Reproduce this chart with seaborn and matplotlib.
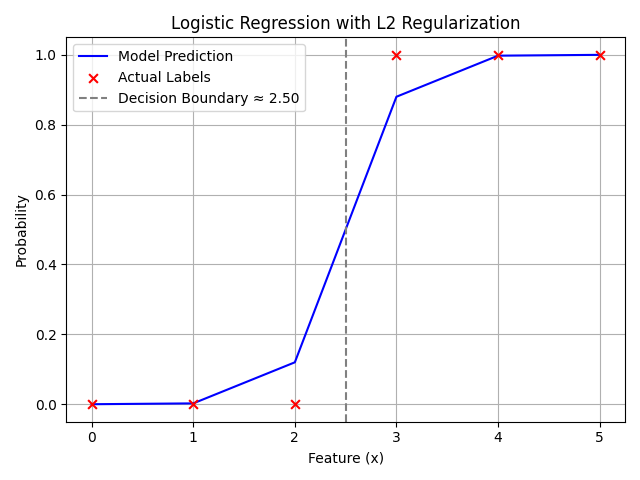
import matplotlib
matplotlib.use('Agg')
import matplotlib.pyplot as plt
import seaborn as sns
import numpy as np

# 数据
x = [0, 1, 2, 3, 4, 5]
y_true = [0, 0, 0, 1, 1, 1]
y_prob = [0.0001, 0.0025, 0.12, 0.88, 0.9975, 0.9999]
boundary = 2.50

fig, ax = plt.subplots(figsize=(6.4, 4.8), dpi=100)
sns.lineplot(x=x, y=y_prob, color='blue', label='Model Prediction', ax=ax)
sns.scatterplot(x=x, y=y_true, color='red', marker='x', s=40, linewidth=1.5,
                label='Actual Labels', ax=ax, zorder=3)
ax.axvline(boundary, color='gray', linestyle='--',
           label=f'Decision Boundary ≈ {boundary:.2f}')
ax.set_title('Logistic Regression with L2 Regularization')
ax.set_xlabel('Feature (x)')
ax.set_ylabel('Probability')
ax.grid(True)
ax.legend(loc='upper left')
plt.tight_layout()
plt.savefig('out.png')
